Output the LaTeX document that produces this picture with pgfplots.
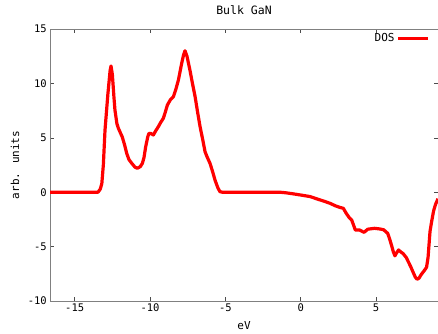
\documentclass[border=0pt]{standalone}
\usepackage{pgfplots}
\pgfplotsset{compat=1.18}
\usepackage{fontspec}
\setmainfont{DejaVu Sans Mono}
\begin{document}
\begin{tikzpicture}
\fontsize{11pt}{13pt}\selectfont
\begin{axis}[
  scale only axis,
  width=388pt, height=272pt,
  xmin=-16.64, xmax=9.11,
  ymin=-10, ymax=15,
  xtick={-15,-10,-5,0,5},
  ytick={-10,-5,0,5,10,15},
  minor tick num=0,
  tick align=inside,
  major tick length=4pt,
  axis line style={gray, line width=0.9pt},
  tick style={black!70, line width=0.6pt},
  /pgf/number format/assume math mode=true,
  ticklabel style={font=\fontsize{10.5pt}{12pt}\selectfont, inner sep=0pt},
  xticklabel style={anchor=center, yshift=-7pt},
  yticklabel style={anchor=east, xshift=-3pt},
  title={Bulk GaN},
  title style={at={(0.5,1)}, anchor=center, yshift=12.5pt, inner sep=0pt, font=\fontsize{11.5pt}{13pt}\selectfont},
  xlabel={eV},
  xlabel style={at={(0.5,0)}, anchor=center, yshift=-25pt, inner sep=0pt},
  ylabel={arb. units},
  ylabel style={at={(0,0.5)}, anchor=center, yshift=35pt, inner sep=0pt},
  legend style={draw=none, fill=none, at={(1,1)}, anchor=north east,
    xshift=-8pt, yshift=-2pt, inner sep=0pt, font=\fontsize{11pt}{13pt}\selectfont},
  legend plot pos=right,
  legend cell align=right,
  legend image code/.code={\draw[#1] (0pt,0pt) -- (30pt,0pt);},
]
\addplot[red, line width=3.2pt, line join=round] coordinates {
(-16.64,0) (-14,0) (-13.45,0) (-13.3,0.3) (-13.2,0.8) (-13.1,2.5) (-12.99,5.7)
(-12.8,9.0) (-12.65,11.2) (-12.59,11.6) (-12.5,10.8) (-12.4,8.8) (-12.33,7.55)
(-12.2,6.3) (-12.1,5.87) (-11.95,5.4) (-11.85,5.1) (-11.7,4.4) (-11.55,3.57)
(-11.4,3.0) (-11.21,2.65) (-11.0,2.3) (-10.84,2.2) (-10.65,2.35) (-10.51,2.65)
(-10.4,3.2) (-10.29,4.18) (-10.15,5.1) (-10.07,5.41) (-9.95,5.4) (-9.78,5.26)
(-9.6,5.7) (-9.45,6.02) (-9.3,6.4) (-9.12,6.79) (-9.0,7.3) (-8.85,8.01)
(-8.65,8.5) (-8.45,8.78) (-8.3,9.4) (-8.12,10.3) (-7.9,11.85) (-7.78,12.6)
(-7.68,13.0) (-7.55,12.5) (-7.35,11.2) (-7.2,10.1) (-7.01,8.78) (-6.85,7.4)
(-6.68,6.02) (-6.5,4.8) (-6.35,3.72) (-6.2,3.2) (-6.02,2.65) (-5.85,1.9)
(-5.69,1.12) (-5.5,0.4) (-5.36,0.05) (-5.2,0) (-2,0) (-1.4,0) (-1,-0.05)
(-0.5,-0.15) (0,-0.26) (0.62,-0.4) (1.15,-0.65) (1.6,-0.85) (1.94,-1.02)
(2.3,-1.25) (2.6,-1.4) (2.83,-1.48) (3.0,-1.9) (3.2,-2.3) (3.38,-2.55)
(3.5,-3.0) (3.62,-3.47) (3.9,-3.47) (4.2,-3.69) (4.45,-3.4) (4.9,-3.32)
(5.26,-3.38) (5.5,-3.45) (5.77,-3.78) (5.9,-4.3) (6.03,-4.9) (6.15,-5.5)
(6.25,-5.85) (6.35,-5.6) (6.49,-5.31) (6.65,-5.5) (6.8,-5.65) (7.0,-6.0)
(7.14,-6.39) (7.3,-6.85) (7.44,-7.3) (7.6,-7.8) (7.72,-8.0) (7.85,-7.9)
(7.98,-7.6) (8.2,-7.2) (8.35,-6.9) (8.45,-6.0) (8.58,-3.6) (8.7,-2.6)
(8.82,-1.7) (8.95,-1.1) (9.11,-0.6)
};
\addlegendentry{DOS}
\end{axis}
\pgfresetboundingbox
\useasboundingbox (-50pt,-32pt) rectangle (388pt,301pt);
\end{tikzpicture}
\end{document}
